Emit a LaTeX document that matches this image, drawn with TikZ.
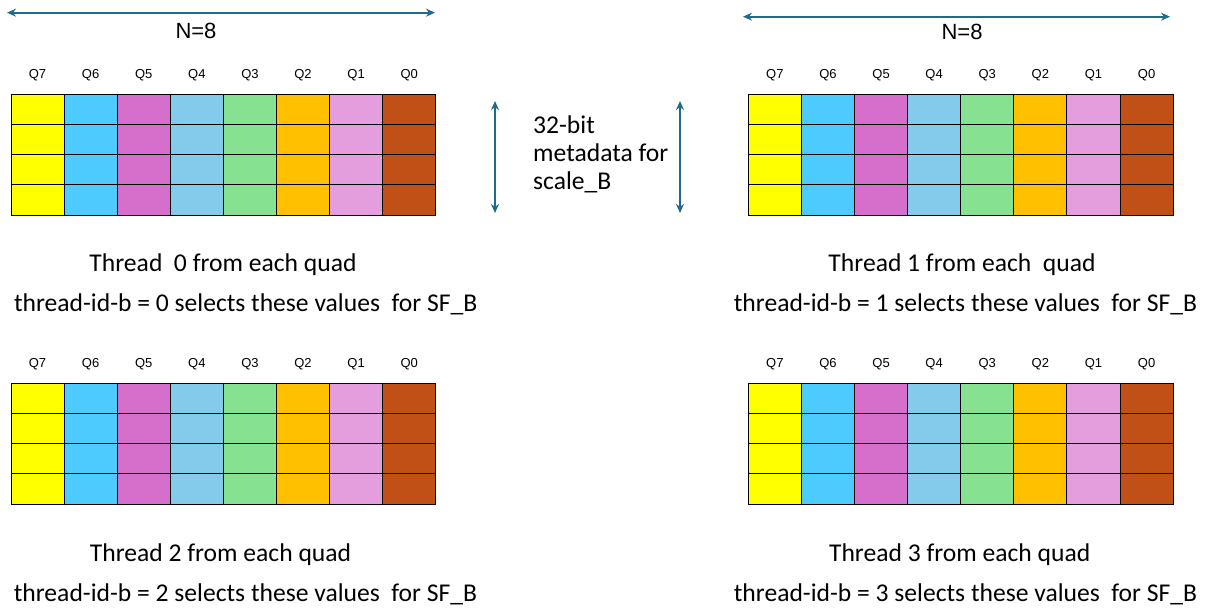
\documentclass[tikz,border=0pt]{standalone}
\usepackage{fontspec}
\setmainfont{Carlito}
\newfontfamily\arialfont{Liberation Sans}
\usetikzlibrary{arrows.meta, positioning, calc}

\definecolor{qyellow}{RGB}{255,255,0}
\definecolor{qcyan}{RGB}{77,203,255}
\definecolor{qmagenta}{RGB}{214,111,204}
\definecolor{qsky}{RGB}{131,202,235}
\definecolor{qgreen}{RGB}{134,226,145}
\definecolor{qorange}{RGB}{255,192,0}
\definecolor{qpink}{RGB}{229,158,221}
\definecolor{qrust}{RGB}{192,80,22}
\definecolor{dimblue}{RGB}{31,107,140}

\tikzset{
  cell/.style={draw=black, line width=0.9pt, minimum width=53.1pt, minimum height=30.2pt,
    inner sep=0pt, outer sep=0pt, anchor=north west},
  qlabel/.style={font=\arialfont\fontsize{13}{15}\selectfont, inner sep=0pt},
  nlabel/.style={font=\arialfont\fontsize{22}{26}\selectfont, inner sep=0pt},
  dimarrow/.style={draw=dimblue, line width=2pt,
    {Stealth[length=9pt,width=8pt]}-{Stealth[length=9pt,width=8pt]}},
  caption/.style={font=\fontsize{25.6}{30}\selectfont, anchor=base, inner sep=0pt},
  meta/.style={font=\fontsize{25.6}{28.3}\selectfont, anchor=base west, align=left, inner sep=0pt},
}

% griglia 8x4: nome, x e y dello spigolo in alto a sinistra
\newcommand{\quadgrid}[3]{%
  \foreach \q/\col [count=\i from 0] in {7/qyellow,6/qcyan,5/qmagenta,4/qsky,3/qgreen,2/qorange,1/qpink,0/qrust} {
    \node[qlabel] (#1-q\q) at ({#2+\i*53.1+26.55},{#3-19}) {Q\q};
    \foreach \r in {0,...,3}
      \node[cell, fill=\col] (#1-\q-\r) at ({#2+\i*53.1},{#3+\r*30.2}) {};
  }%
}

\begin{document}
\begin{tikzpicture}[x=1pt,y=-1pt]
  \useasboundingbox (0,0) rectangle (1207,609);

  % Griglie
  \quadgrid{tA}{11}{94.3}
  \quadgrid{tB}{748.3}{94.3}
  \quadgrid{tC}{11}{383.3}
  \quadgrid{tD}{748.3}{383.3}

  % Frecce N=8
  \coordinate (nA-l) at (7,12.7);
  \coordinate (nA-r) at (435,12.7);
  \draw[dimarrow] (nA-l) -- (nA-r);
  \node[nlabel] (nA) at (196,31) {N=8};

  \coordinate (nB-l) at (743,16.7);
  \coordinate (nB-r) at (1170,16.7);
  \draw[dimarrow] (nB-l) -- (nB-r);
  \node[nlabel] (nB) at (962,32) {N=8};

  % Frecce verticali e testo centrale
  \coordinate (vA-t) at (495,101);
  \coordinate (vA-b) at (495,213);
  \coordinate (vB-t) at (680,101);
  \coordinate (vB-b) at (680,213);
  \draw[dimarrow] (vA-t) -- (vA-b);
  \draw[dimarrow] (vB-t) -- (vB-b);
  \node[meta] (meta) at (533,190) {32-bit\\metadata for\\scale\_B};

  % Didascalie
  \node[caption] (thA) at (223,272) {Thread~ 0 from each quad};
  \node[caption] (selA) at (245.7,312) {thread-id-b = 0 selects these values~ for SF\_B};
  \node[caption] (thB) at (962,272) {Thread 1 from each~ quad};
  \node[caption] (selB) at (965.5,312) {thread-id-b = 1 selects these values~ for SF\_B};
  \node[caption] (thC) at (220.5,561.7) {Thread 2 from each quad};
  \node[caption] (selC) at (245.5,601.7) {thread-id-b = 2 selects these values~ for SF\_B};
  \node[caption] (thD) at (959.7,561.7) {Thread 3 from each quad};
  \node[caption] (selD) at (965.5,601.7) {thread-id-b = 3 selects these values~ for SF\_B};
\end{tikzpicture}
\end{document}
